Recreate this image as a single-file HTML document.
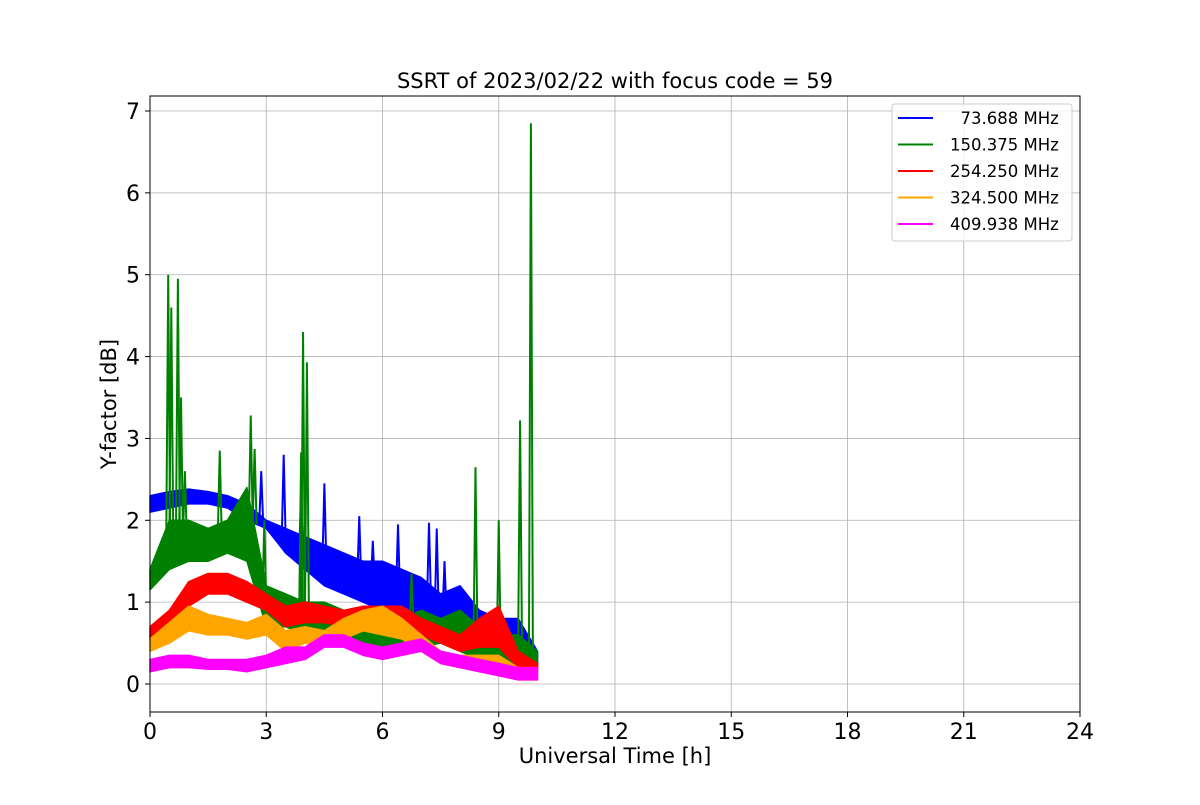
<!DOCTYPE html>
<html><head><meta charset="utf-8"><style>
body{margin:0;background:#fff}
svg text{font-family:"DejaVu Sans","Liberation Sans",sans-serif}
</style></head><body>
<svg id="chart" width="1200" height="800" xmlns="http://www.w3.org/2000/svg">
<rect width="1200" height="800" fill="#fff"/>
<g id="grid"></g>
<g id="series"></g>
<rect x="150" y="96" width="930" height="616" fill="none" stroke="#000" stroke-width="1"/>
<g id="ticks"></g>
<text x="615" y="88" text-anchor="middle" font-size="21">SSRT of 2023/02/22 with focus code = 59</text>
<text x="615" y="763" text-anchor="middle" font-size="21">Universal Time [h]</text>
<text transform="translate(116,404) rotate(-90)" text-anchor="middle" font-size="21">Y-factor [dB]</text>
<g id="legend"></g>
</svg>
<script>
const times=[0,0.5,1,1.5,2,2.5,3,3.5,4,4.5,5,5.5,6,6.5,7,7.5,8,8.5,9,9.5,10];
const labels=[" 73.688 MHz","150.375 MHz","254.250 MHz","324.500 MHz","409.938 MHz"];
const colors=["#0000ff","#008000","#ff0000","#ffa500","#ff00ff"];
const blueLow=[2.1,2.15,2.2,2.2,2.15,2.0,1.9,1.6,1.4,1.2,1.1,1.0,0.9,0.8,0.7,0.6,0.5,0.4,0.3,0.25,0.2];
const blueHigh=[2.3,2.35,2.38,2.35,2.3,2.2,2.0,1.9,1.8,1.7,1.6,1.5,1.5,1.4,1.3,1.1,1.2,0.9,0.8,0.8,0.4];
const greenLow=[1.15,1.4,1.5,1.5,1.6,1.5,0.7,0.7,0.6,0.6,0.5,0.45,0.4,0.4,0.45,0.5,0.4,0.3,0.2,0.2,0.2];
const greenHigh=[1.4,2.0,2.0,1.9,2.0,2.4,1.2,1.1,1.0,1.0,0.9,0.8,0.7,0.8,0.9,0.8,0.9,0.7,0.6,0.6,0.4];
const redLow=[0.55,0.7,0.95,1.1,1.1,1.0,0.9,0.7,0.75,0.75,0.7,0.7,0.75,0.7,0.6,0.5,0.4,0.45,0.45,0.2,0.1];
const redHigh=[0.7,0.9,1.25,1.35,1.35,1.25,1.1,0.95,1.0,0.95,0.9,0.95,0.95,0.95,0.8,0.7,0.6,0.8,0.95,0.4,0.25];
const orangeLow=[0.4,0.5,0.65,0.6,0.6,0.55,0.6,0.4,0.5,0.45,0.55,0.65,0.6,0.55,0.4,0.25,0.2,0.2,0.15,0.05,0.05];
const orangeHigh=[0.55,0.75,0.95,0.85,0.8,0.75,0.85,0.65,0.7,0.65,0.8,0.9,0.95,0.8,0.6,0.4,0.35,0.35,0.35,0.2,0.2];
const magentaLow=[0.15,0.2,0.2,0.18,0.18,0.15,0.2,0.25,0.3,0.45,0.45,0.35,0.3,0.35,0.4,0.25,0.2,0.15,0.1,0.05,0.05];
const magentaHigh=[0.3,0.35,0.35,0.3,0.3,0.3,0.35,0.45,0.45,0.6,0.6,0.5,0.45,0.5,0.55,0.4,0.35,0.3,0.25,0.2,0.2];
const blueSpikes=[[2.87,2.6],[3.45,2.8],[3.9,2.3],[4.5,2.45],[5.4,2.05],[5.75,1.75],[6.4,1.95],[7.2,1.97],[7.4,1.9],[7.6,1.5]];
const greenSpikes=[[0.47,5.0],[0.55,4.6],[0.72,4.95],[0.8,3.5],[0.9,2.6],[1.8,2.85],[2.6,3.28],[2.7,2.87],[2.95,2.0],[3.9,2.83],[3.95,4.3],[4.05,3.93],[6.75,1.35],[8.4,2.65],[9.0,2.0],[9.55,3.22],[9.83,6.85]];
const xTicks=[0,3,6,9,12,15,18,21,24];
const yTicks=[0,1,2,3,4,5,6,7];
const NS="http://www.w3.org/2000/svg";
function X(t){return 150+t*930/24;}
function Y(v){return 684-v*81.857;}
function mk(tag,attrs,parent){const e=document.createElementNS(NS,tag);for(const k in attrs)e.setAttribute(k,attrs[k]);parent.appendChild(e);return e;}
const grid=document.getElementById('grid'),ticks=document.getElementById('ticks'),ser=document.getElementById('series');
xTicks.forEach(t=>{
  const g=mk('line',{x1:X(t),x2:X(t),y1:96,y2:712,stroke:'#b0b0b0','stroke-width':0.8},grid);
  
  
  mk('line',{x1:X(t),x2:X(t),y1:712,y2:717,stroke:'#000'},ticks);
  const l=mk('text',{x:X(t),y:739,'text-anchor':'middle','font-size':22},ticks);l.textContent=t;
  
  
});
yTicks.forEach(v=>{
  const g=mk('line',{x1:150,x2:1080,y1:Y(v),y2:Y(v),stroke:'#b0b0b0','stroke-width':0.8},grid);
  
  
  mk('line',{x1:145,x2:150,y1:Y(v),y2:Y(v),stroke:'#000'},ticks);
  const l=mk('text',{x:140,y:Y(v)+8,'text-anchor':'end','font-size':22},ticks);l.textContent=v;
  
  
});
const bands=[[blueLow,blueHigh,blueSpikes],[greenLow,greenHigh,greenSpikes],[redLow,redHigh,[]],[orangeLow,orangeHigh,[]],[magentaLow,magentaHigh,[]]];
const names=['series-73mhz','series-150mhz','series-254mhz','series-324mhz','series-409mhz'];
bands.forEach((b,i)=>{
  const [lo,hi,sp]=b;
  let pts=times.map((t,j)=>X(t)+','+Y(hi[j]));
  pts=pts.concat(times.map((t,j)=>X(t)+','+Y(lo[j])).reverse());
  const p=mk('polygon',{points:pts.join(' '),fill:colors[i],stroke:colors[i],'stroke-width':1.5,'stroke-linejoin':'round'},ser);
  
  
  sp.forEach(s=>{
    const k=Math.min(times.length-1,Math.round(s[0]/0.5));
    const base=(lo[k]+hi[k])/2;
    const l=mk('polyline',{points:(X(s[0])-2)+','+Y(base)+' '+X(s[0])+','+Y(s[1])+' '+(X(s[0])+2)+','+Y(base),fill:'none',stroke:colors[i],'stroke-width':2},ser);
    
    
  });
});
const lg=document.getElementById('legend');
const box=mk('rect',{x:892,y:104,width:180,height:137,rx:3,fill:'#fff','fill-opacity':0.8,stroke:'#ccc'},lg);


labels.forEach((s,i)=>{
  const y=118+i*26.5;
  const e=mk('g',{},lg);
  
  
  mk('line',{x1:898,x2:933,y1:y,y2:y,stroke:colors[i],'stroke-width':2},e);
  const t=mk('text',{x:950,y:y+6,'font-size':16.5},e);
  t.textContent=s.replace(/^ /,'\u00a0\u00a0');
});
</script>
</body></html>
